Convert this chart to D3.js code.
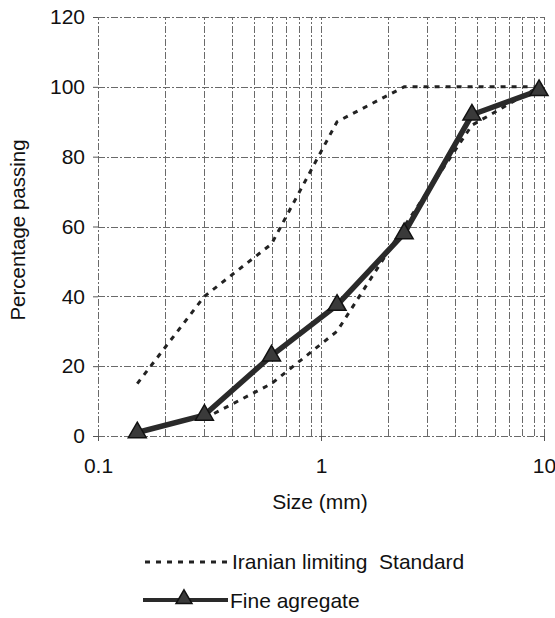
<!DOCTYPE html>
<html><head><meta charset="utf-8">
<script src="https://cdn.jsdelivr.net/npm/d3@7"></script>
<style>body{margin:0;background:#fff}svg{display:block}text{font-family:"Liberation Sans",Arial,sans-serif;fill:#111}</style>
</head><body>
<script>
const sieveSizes = [0.15, 0.3, 0.6, 1.18, 2.36, 4.75, 9.5];
const fineAggregate = [1, 6, 23, 37.5, 58, 92, 99];
const upperLimitSizes = [0.15, 0.3, 0.6, 1.18, 2.36, 4.75, 9.5];
const upperLimit = [15, 40, 55, 90, 100, 100, 100];
const lowerLimitSizes = [0.3, 0.6, 1.18, 2.36, 4.75, 9.5];
const lowerLimit = [5, 15, 30, 60, 89, 100];
const yTicks = [0, 20, 40, 60, 80, 100, 120];
const xTicks = [0.1, 1, 10];
const xTickLabels = ["0.1", "1", "10"];
const seriesNames = ["Iranian limiting  Standard", "Fine agregate"];

const W = 555, H = 618;
const svg = d3.select("body").append("svg").attr("width", W).attr("height", H);
const x = d3.scaleLog().domain([0.1, 10]).range([98, 544]);
const y = d3.scaleLinear().domain([0, 120]).range([436, 17]);

// grid
const minor = [];
for (let d = 0.1; d < 10; d *= 10) for (let k = 1; k <= 10; k++) minor.push(+(d * k).toPrecision(3));
const gridStyle = s => s.attr("stroke", "#6a6a6a").attr("stroke-width", 1).attr("stroke-dasharray", "7,2,2,2");
svg.append("g").selectAll("line").data(Array.from(new Set(minor))).join("line")
  .attr("x1", d => Math.round(x(d)) + 0.5).attr("x2", d => Math.round(x(d)) + 0.5)
  .attr("y1", y(0)).attr("y2", y(120)).call(gridStyle);
svg.append("g").selectAll("line").data(yTicks).join("line")
  .attr("x1", x(0.1)).attr("x2", x(10))
  .attr("y1", d => Math.round(y(d)) + 0.5).attr("y2", d => Math.round(y(d)) + 0.5).call(gridStyle);

// axes
const yAxis = svg.append("g").attr("transform", `translate(${x(0.1)},0)`)
  .call(d3.axisLeft(y).tickValues(yTicks).tickSize(5).tickPadding(8));
const xAxis = svg.append("g").attr("transform", `translate(0,${y(0)})`)
  .call(d3.axisBottom(x).tickValues(xTicks).tickFormat((d, i) => xTickLabels[i]).tickSize(5).tickPadding(17));
[yAxis, xAxis].forEach(a => {
  a.select(".domain").remove();
  a.selectAll(".tick line").attr("stroke", "#555");
  a.selectAll("text").style("font-size", "21px").attr("fill", "#111");
});

// titles
svg.append("text").attr("transform", `translate(25,230) rotate(-90)`).attr("text-anchor", "middle")
  .style("font-size", "20.5px").text("Percentage passing");
svg.append("text").attr("x", 320).attr("y", 509).attr("text-anchor", "middle")
  .style("font-size", "21px").text("Size (mm)");

// series
const line = d3.line().x(d => x(d[0])).y(d => y(d[1]));
const dashStyle = s => s.attr("fill", "none").attr("stroke", "#222").attr("stroke-width", 3).attr("stroke-dasharray", "5,6");
svg.append("path").datum(d3.zip(upperLimitSizes, upperLimit)).attr("d", line).call(dashStyle);
svg.append("path").datum(d3.zip(lowerLimitSizes, lowerLimit)).attr("d", line).call(dashStyle);

svg.append("path").datum(d3.zip(sieveSizes, fineAggregate)).attr("d", line)
  .attr("fill", "none").attr("stroke", "#2a2a2a").attr("stroke-width", 5.5).attr("stroke-linejoin", "round");
const tri = d3.symbol().type(d3.symbolTriangle).size(140);
svg.append("g").selectAll("path").data(d3.zip(sieveSizes, fineAggregate)).join("path")
  .attr("d", tri).attr("transform", d => `translate(${x(d[0])},${y(d[1])})`)
  .attr("fill", "#3a3a3a").attr("stroke", "#111").attr("stroke-width", 1.5);

// legend
const lg = svg.append("g");
lg.append("line").attr("x1", 145).attr("x2", 230).attr("y1", 562).attr("y2", 562).call(dashStyle);
lg.append("text").attr("x", 232).attr("y", 569).style("font-size", "21px").style("white-space", "pre").text(seriesNames[0]);
lg.append("line").attr("x1", 143).attr("x2", 228).attr("y1", 600).attr("y2", 600)
  .attr("stroke", "#2a2a2a").attr("stroke-width", 4);
lg.append("path").attr("d", d3.symbol().type(d3.symbolTriangle).size(110)).attr("transform", "translate(184,599)")
  .attr("fill", "#3a3a3a").attr("stroke", "#111").attr("stroke-width", 1.5);
lg.append("text").attr("x", 230).attr("y", 608).style("font-size", "21px").text(seriesNames[1]);
</script>
</body></html>
